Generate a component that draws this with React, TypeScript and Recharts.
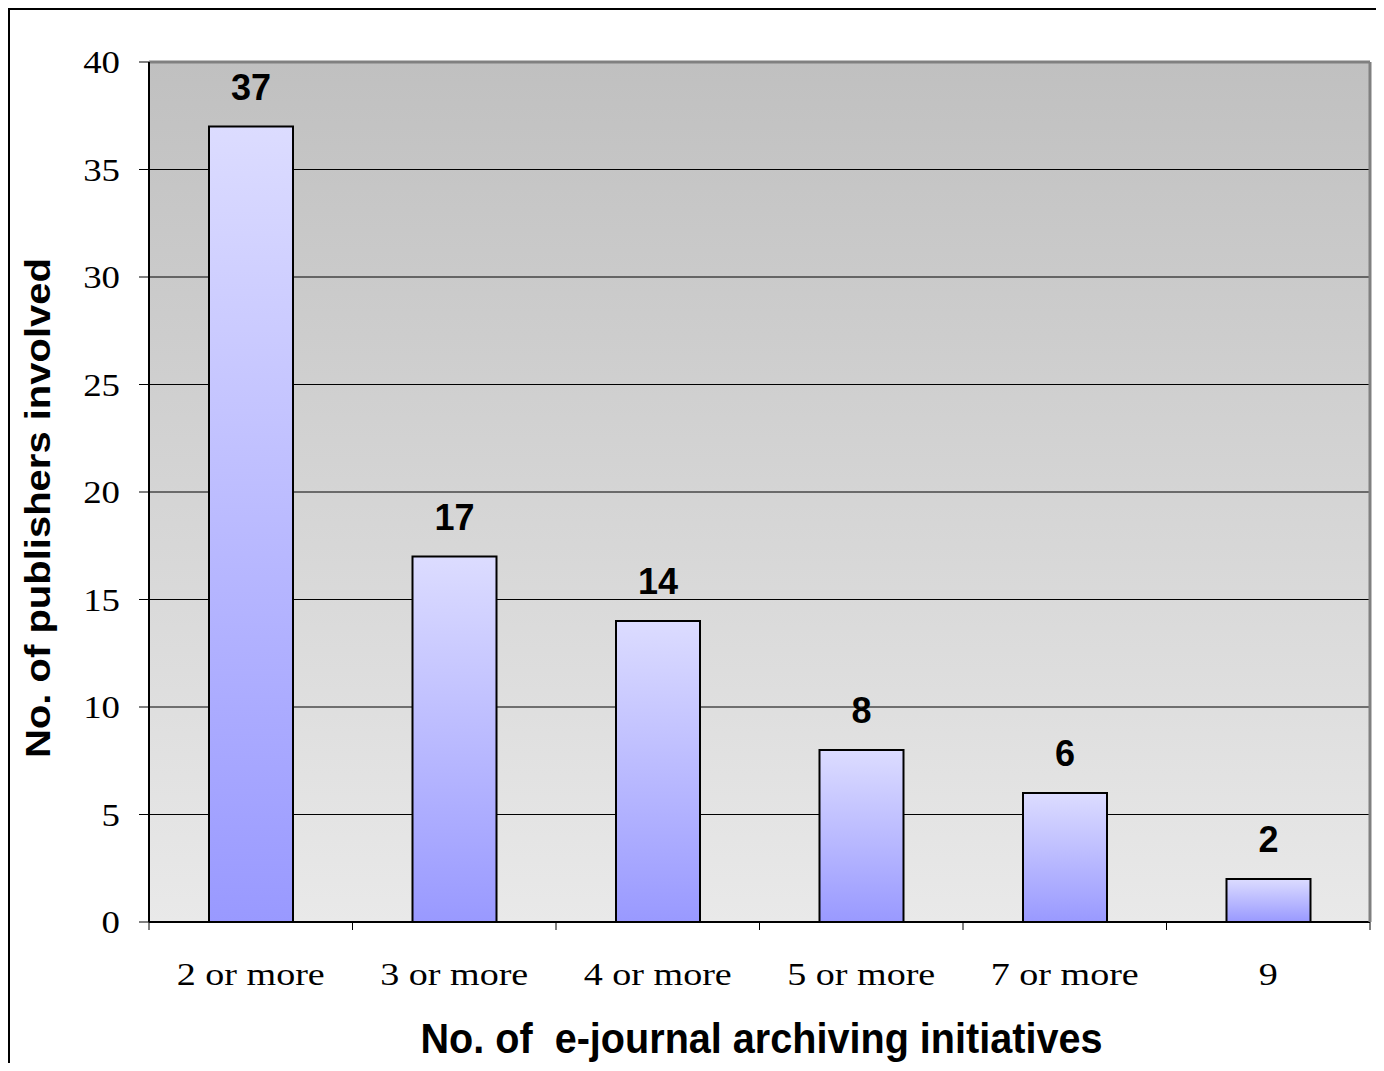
import React from 'react';
import { BarChart, Bar, XAxis, YAxis, CartesianGrid, LabelList, ReferenceLine } from 'recharts';

const categories = ['2 or more', '3 or more', '4 or more', '5 or more', '7 or more', '9'];
const publishers = [37, 17, 14, 8, 6, 2];
const yTicks = [0, 5, 10, 15, 20, 25, 30, 35, 40];

const data = categories.map((c, i) => ({ name: c, value: publishers[i] }));

const SERIF = '"Liberation Serif", "Times New Roman", serif';
const SANS = '"Liberation Sans", Arial, sans-serif';

const XTick = (props: any) => {
  const { x, y, payload, index, visibleTicksCount } = props;
  const half = payload && typeof payload.offset === 'number' && payload.offset > 0 ? payload.offset : 0;
  const last = index === (visibleTicksCount ?? categories.length) - 1;
  return (
    <g>
      {half > 0 && (
        <line x1={x - half} y1={y} x2={x - half} y2={y + 8} stroke="#000" strokeWidth={1} />
      )}
      {half > 0 && last && (
        <line x1={x + half} y1={y} x2={x + half} y2={y + 8} stroke="#000" strokeWidth={1} />
      )}
      <text
        x={0}
        y={0}
        transform={`translate(${x},${y + 63}) scale(1.19,1)`}
        textAnchor="middle"
        fontFamily={SERIF}
        fontSize={32}
        fill="#000"
      >
        {payload.value}
      </text>
    </g>
  );
};

const YTick = (props: any) => {
  const { x, y, payload } = props;
  return (
    <text
      x={0}
      y={0}
      transform={`translate(${x - 19},${y + 11}) scale(1.15,1)`}
      textAnchor="end"
      fontFamily={SERIF}
      fontSize={32}
      fill="#000"
    >
      {payload.value}
    </text>
  );
};

const YTitle = (props: any) => {
  const vb = props.viewBox || { x: 0, y: 52, width: 139, height: 860 };
  const cx = vb.x + 40;
  const cy = vb.y + vb.height / 2 + 16;
  return (
    <text
      x={cx}
      y={cy}
      transform={`rotate(-90, ${cx}, ${cy})`}
      textAnchor="middle"
      fontFamily={SANS}
      fontWeight="bold"
      fontSize={35}
      textLength={500}
      lengthAdjust="spacingAndGlyphs"
      fill="#000"
    >
      No. of publishers involved
    </text>
  );
};

const XTitle = (props: any) => {
  const vb = props.viewBox || { x: 139, y: 912, width: 1221, height: 141 };
  const cx = vb.x + vb.width / 2 + 2;
  const cy = vb.y + 131;
  return (
    <text
      x={cx}
      y={cy}
      textAnchor="middle"
      fontFamily={SANS}
      fontWeight="bold"
      fontSize={42}
      textLength={682}
      lengthAdjust="spacingAndGlyphs"
      fill="#000"
      style={{ whiteSpace: 'pre' }}
    >
      {'No. of  e-journal archiving initiatives'}
    </text>
  );
};

export default function App() {
  return (
    <div
      style={{
        width: 1376,
        height: 1055,
        boxSizing: 'border-box',
        borderLeft: '2px solid #000',
        borderTop: '2px solid #000',
        background: '#fff',
      }}
    >
      <BarChart
        width={1374}
        height={1053}
        data={data}
        margin={{ top: 52, right: 0, bottom: 0, left: 0 }}
      >
        <defs>
          <linearGradient id="plotBg" x1="0" y1="0" x2="0" y2="1">
            <stop offset="0%" stopColor="#c0c0c0" />
            <stop offset="100%" stopColor="#e9e9e9" />
          </linearGradient>
          <linearGradient id="barFill" x1="0" y1="0" x2="0" y2="1">
            <stop offset="0%" stopColor="#dcdcff" />
            <stop offset="100%" stopColor="#9999ff" />
          </linearGradient>
        </defs>
        <CartesianGrid
          xAxisId="cat"
          yAxisId="l"
          vertical={false}
          stroke="#000"
          strokeWidth={1}
          fill="url(#plotBg)"
          fillOpacity={1}
        />
        <XAxis
          xAxisId="cat"
          dataKey="name"
          type="category"
          axisLine={{ stroke: '#000', strokeWidth: 2 }}
          tickLine={false}
          tickSize={0}
          tickMargin={0}
          tick={<XTick />}
          interval={0}
          height={141}
          label={<XTitle />}
        />
        <YAxis
          yAxisId="l"
          orientation="left"
          domain={[0, 40]}
          ticks={yTicks}
          interval={0}
          width={139}
          tickSize={10}
          tickMargin={0}
          tick={<YTick />}
          tickLine={{ stroke: '#000', strokeWidth: 1 }}
          axisLine={{ stroke: '#000', strokeWidth: 2 }}
          label={<YTitle />}
        />
        <YAxis
          yAxisId="r"
          orientation="right"
          domain={[0, 40]}
          width={14}
          tick={false}
          tickLine={false}
          axisLine={{ stroke: '#808080', strokeWidth: 3 }}
        />
        <ReferenceLine yAxisId="l" xAxisId="cat" y={40} stroke="#808080" strokeWidth={3} />
        <Bar
          dataKey="value"
          xAxisId="cat"
          yAxisId="l"
          barSize={84}
          fill="url(#barFill)"
          stroke="#000"
          strokeWidth={2}
          isAnimationActive={false}
        >
          <LabelList
            dataKey="value"
            position="top"
            offset={27}
            fontFamily={SANS}
            fontWeight="bold"
            fontSize={36}
            fill="#000"
          />
        </Bar>
      </BarChart>
    </div>
  );
}
